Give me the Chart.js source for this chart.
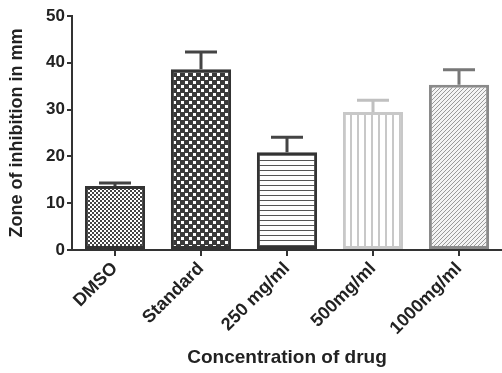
<!DOCTYPE html>
<html>
<head>
<meta charset="utf-8">
<script src="https://cdn.jsdelivr.net/npm/chart.js@4"></script>
<style>
  body { margin: 0; background: #fff; }
  #wrap { width: 502px; height: 373px; }
</style>
</head>
<body>
<div id="wrap"><canvas id="myChart" width="502" height="373"></canvas></div>
<script>
// chart values
let categories = ['DMSO', 'Standard', '250 mg/ml', '500mg/ml', '1000mg/ml'];
let zoneValues = [13.7, 38.6, 20.9, 29.5, 35.3];
let zoneErrors = [0.6, 3.7, 3.2, 2.5, 3.2];
let yTicks = [0, 10, 20, 30, 40, 50];

// little tiles for the bar fills
function makePattern(kind) {
    let c = document.createElement('canvas');
    let g = c.getContext('2d');
    if (kind == 'fineCheck') {
        c.width = 4; c.height = 4;
        g.fillStyle = '#fff'; g.fillRect(0, 0, 4, 4);
        g.fillStyle = '#444';
        g.fillRect(0, 0, 2, 2); g.fillRect(2, 2, 2, 2);
    } else if (kind == 'bigCheck') {
        c.width = 8; c.height = 8;
        g.fillStyle = '#3a3a3a'; g.fillRect(0, 0, 8, 8);
        g.fillStyle = '#fff';
        g.fillRect(1, 1, 3, 3); g.fillRect(5, 5, 3, 3);
    } else if (kind == 'hLines') {
        c.width = 4; c.height = 5;
        g.fillStyle = '#fff'; g.fillRect(0, 0, 4, 5);
        g.fillStyle = '#555'; g.fillRect(0, 0, 4, 1);
    } else if (kind == 'vLines') {
        c.width = 7; c.height = 4;
        g.fillStyle = '#fff'; g.fillRect(0, 0, 7, 4);
        g.fillStyle = '#c8c8c8'; g.fillRect(0, 0, 2, 4);
    } else {
        c.width = 4; c.height = 4;
        g.fillStyle = '#f4f4f4'; g.fillRect(0, 0, 4, 4);
        g.strokeStyle = '#9a9a9a'; g.lineWidth = 1;
        g.beginPath();
        g.moveTo(0, 4); g.lineTo(4, 0);
        g.moveTo(-1, 1); g.lineTo(1, -1);
        g.moveTo(3, 5); g.lineTo(5, 3);
        g.stroke();
    }
    return g.createPattern(c, 'repeat');
}

let fills = ['fineCheck', 'bigCheck', 'hLines', 'vLines', 'diag'].map(makePattern);
let borders = ['#333', '#333', '#333', '#c8c8c8', '#8a8a8a'];
let whiskerColors = ['#444', '#444', '#444', '#c0c0c0', '#777'];

// error bars drawn on top of each bar
let errorBars = {
    id: 'errorBars',
    afterDatasetsDraw(chart) {
        let ctx = chart.ctx;
        let yScale = chart.scales.y;
        let meta = chart.getDatasetMeta(0);
        meta.data.forEach((bar, i) => {
            let top = yScale.getPixelForValue(zoneValues[i] + zoneErrors[i]);
            ctx.save();
            ctx.strokeStyle = whiskerColors[i];
            ctx.lineWidth = 3;
            ctx.beginPath();
            ctx.moveTo(bar.x, bar.y);
            ctx.lineTo(bar.x, top);
            ctx.moveTo(bar.x - 16, top);
            ctx.lineTo(bar.x + 16, top);
            ctx.stroke();
            ctx.restore();
        });
    }
};

var ctx = document.getElementById('myChart').getContext('2d');
var chart = new Chart(ctx, {
    type: 'bar',
    data: {
        labels: categories,
        datasets: [{
            data: zoneValues,
            backgroundColor: fills,
            borderColor: borders,
            borderWidth: 3,
            borderSkipped: false,
            categoryPercentage: 1,
            barPercentage: 0.7
        }]
    },
    options: {
        responsive: false,
        animation: false,
        layout: { padding: { top: 16, right: 0, left: 0, bottom: 0 } },
        plugins: { legend: { display: false }, tooltip: { enabled: false } },
        scales: {
            x: {
                afterFit: (axis) => { axis.height = 123; },
                grid: { display: true, drawOnChartArea: false, offset: false, tickLength: 6, color: '#333', lineWidth: 2 },
                border: { color: '#333', width: 2 },
                ticks: {
                    maxRotation: 45, minRotation: 45, padding: 2,
                    color: '#222',
                    font: { family: 'Liberation Sans', weight: 'bold', size: 18 }
                },
                title: {
                    display: true, text: 'Concentration of drug', color: '#222',
                    padding: { top: 0, bottom: 4 },
                    font: { family: 'Liberation Sans', weight: 'bold', size: 19 }
                }
            },
            y: {
                min: 0, max: 50,
                afterBuildTicks: (axis) => { axis.ticks = yTicks.map(v => ({ value: v })); },
                afterFit: (axis) => { axis.width = 72; },
                grid: { display: true, drawOnChartArea: false, tickLength: 5, color: '#333', lineWidth: 2 },
                border: { color: '#333', width: 2 },
                ticks: {
                    padding: 2, color: '#222',
                    font: { family: 'Liberation Sans', weight: 'bold', size: 17 }
                },
                title: {
                    display: true, text: 'Zone of inhibition in mm', color: '#222',
                    padding: { top: 6, bottom: 0 },
                    font: { family: 'Liberation Sans', weight: 'bold', size: 18 }
                }
            }
        }
    },
    plugins: [errorBars]
});
</script>
</body>
</html>
